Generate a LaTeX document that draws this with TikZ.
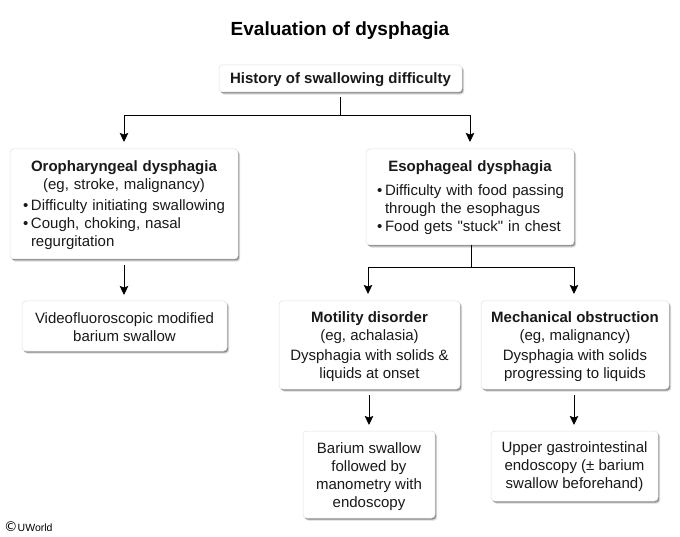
\documentclass[tikz,border=0pt]{standalone}
\usepackage{fontspec}
\setmainfont{Liberation Sans}
\newfontfamily\plainq{Liberation Sans}
\usetikzlibrary{shadows,arrows.meta}
\newcommand{\ctr}[1]{\makebox[\linewidth][c]{#1}}
\newcommand{\bul}{\makebox[11pt][l]{\hspace{3pt}•}}
\newcommand{\up}{\rule{0pt}{15pt}}
\newcommand{\upa}{\rule{0pt}{13pt}}
\tikzset{
  x=1pt,y=-1pt,
  flowbox/.style={draw=black!12,line width=0.5pt,fill=white,rounded corners=3.5pt,align=center,inner sep=0pt,
    font=\fontsize{15}{18}\selectfont,text=black!90,
    drop shadow={shadow xshift=2.2pt,shadow yshift=-2.6pt,fill=black,opacity=0.15},
    drop shadow={shadow xshift=1.2pt,shadow yshift=-1.5pt,fill=black,opacity=0.35}},
  conn/.style={draw=black,line width=0.9pt},
  arr/.style={conn,-{Stealth[length=9pt,width=8.5pt,inset=1.5pt]}},
  title/.style={font=\bfseries\fontsize{19}{22}\selectfont,text=black}
}
\newcommand{\bx}[7]{\node[flowbox,minimum width=#3pt-#2pt,minimum height=#5pt-#4pt,#6] (#1) at ({(#2+#3)/2},{(#4+#5)/2}) {#7};}
\begin{document}
\begin{tikzpicture}
\useasboundingbox (0,0) rectangle (680,537);
\fill[white] (0,0) rectangle (680,537);
\node[title] (ttl) at (340,31) {Evaluation of dysphagia};
\bx{hist}{219}{462}{65}{92}{}{\upa\textbf{History of swallowing difficulty}}
\bx{oro}{10}{238}{149}{259}{text width=208pt,align=left}{\upa\ctr{\textbf{Oropharyngeal dysphagia}}\\\ctr{(eg, stroke, malignancy)}\\[3pt]\bul Difficulty initiating swallowing\\\bul Cough, choking, nasal\\\hspace{11pt}regurgitation}
\bx{eso}{366}{574}{149}{245}{text width=192pt,align=left}{\upa\ctr{\textbf{Esophageal dysphagia}}\\[6pt]\bul Difficulty with food passing\\\hspace{11pt}through the esophagus\\\bul {\plainq Food gets "stuck" in chest}}
\bx{vid}{22}{227}{301}{351}{}{\upa Videofluoroscopic modified\\barium swallow}
\bx{mot}{279}{460}{301}{389}{}{\up\textbf{Motility disorder}\\(eg, achalasia)\\[2pt]Dysphagia with solids \&\\liquids at onset}
\bx{mech}{481}{669}{301}{389}{}{\up\textbf{Mechanical obstruction}\\(eg, malignancy)\\[2pt]Dysphagia with solids\\progressing to liquids}
\bx{bar}{303}{435}{431}{518}{}{\up Barium swallow\\followed by\\manometry with\\endoscopy}
\bx{up}{491}{658}{431}{501}{}{\upa Upper gastrointestinal\\endoscopy (± barium\\swallow beforehand)}
\node[font=\fontsize{10.5}{12}\selectfont,inner sep=0pt,anchor=west] (cr) at (4,527) {{\fontspec{DejaVu Sans}\fontsize{13.5}{12}\selectfont ©}UWorld};
% connectors
\coordinate (j1) at (340,115);
\coordinate (j1l) at (124,115);
\coordinate (j1r) at (470,115);
\draw[conn] (340,97) -- (j1);
\draw[arr] (j1) -- (j1l) -- (124,142);
\draw[arr] (j1) -- (j1r) -- (470,142);
\coordinate (j2) at (471,267);
\coordinate (j2l) at (368,267);
\coordinate (j2r) at (574,267);
\draw[conn] (eso.south -| j2) -- (j2);
\draw[arr] (j2) -- (j2l) -- (368,294);
\draw[arr] (j2) -- (j2r) -- (574,294);
\coordinate (a1) at (124,265);
\coordinate (a2) at (124,295);
\draw[arr] (a1) -- (a2);
\coordinate (a3) at (369,395);
\coordinate (a4) at (369,425);
\draw[arr] (a3) -- (a4);
\coordinate (a5) at (574,395);
\coordinate (a6) at (574,425);
\draw[arr] (a5) -- (a6);
\end{tikzpicture}
\end{document}
